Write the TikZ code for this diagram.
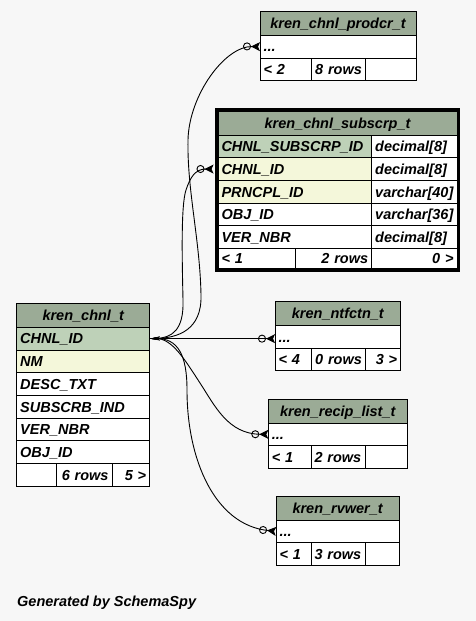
\documentclass[tikz,border=0pt]{standalone}
\usepackage{fontspec}
\setmainfont{Liberation Sans}
\usetikzlibrary{%
    arrows.meta,%
    positioning,%
    fit
    }
\definecolor{myhead}{RGB}{155,171,150}
\definecolor{mykey}{RGB}{190,209,184}
\definecolor{myidx}{RGB}{244,247,218}
\definecolor{mybg}{RGB}{247,247,247}
\newcommand{\tblfont}{\fontsize{14.5pt}{17pt}\selectfont\bfseries\itshape}
\tikzset{
  tblcell/.style={
    draw=black,
    line width=1pt,
    fill=white,
    anchor=north west,
    inner xsep=3.5pt,
    inner ysep=0pt,
    outer sep=0pt,
    minimum height=22.7pt,
    text height=12.5pt,
    text depth=2pt,
    align=left,
    font=\tblfont
  },
  tblhead/.style={
    tblcell,
    fill=myhead,
    minimum height=24pt,
    align=center
  },
  keycell/.style={
    tblcell,
    fill=mykey
  },
  idxcell/.style={
    tblcell,
    fill=myidx
  },
  footcell/.style={
    tblcell,
    minimum height=22.5pt
  },
  footright/.style={
    footcell,
    align=right
  },
  selframe/.style={
    draw=black,
    line width=3pt,
    inner sep=1.5pt
  },
  fklink/.style={
    line width=0.9pt,
    {Stealth[length=10pt,width=3.5pt]}-{Circle[open,length=8pt,width=8pt]Stealth[reversed,length=9pt,width=9pt,inset=2pt]}
  }
}

\begin{document}
\begin{tikzpicture}[x=1pt,y=-1pt]
\path[use as bounding box, fill=mybg] (0,0) rectangle (476,621);

% kren_chnl_prodcr_t
\node[tblhead, text width=149pt]
  (prodcr-head) at (260,11.3)
  {kren\_chnl\_prodcr\_t};
\node[tblcell, text width=149pt, below=0pt of prodcr-head]
  (prodcr-dots)
  {...};
\node[footcell, text width=44.7pt]
  (prodcr-f1) at (prodcr-dots.south west)
  {< 2};
\node[footcell, text width=47pt, right=0pt of prodcr-f1]
  (prodcr-f2)
  {8 rows};
\node[footcell, text width=43.3pt, right=0pt of prodcr-f2]
  (prodcr-f3)
  {};

% kren_chnl_subscrp_t
\node[tblhead, text width=232pt]
  (sub-head) at (218,111)
  {kren\_chnl\_subscrp\_t};
\node[keycell, text width=146.7pt]
  (sub-pk) at (sub-head.south west)
  {CHNL\_SUBSCRP\_ID};
\node[tblcell, text width=78.3pt, right=0pt of sub-pk]
  (sub-pk-t)
  {decimal[8]};
\node[idxcell, text width=146.7pt, below=0pt of sub-pk]
  (sub-chnl)
  {CHNL\_ID};
\node[tblcell, text width=78.3pt, right=0pt of sub-chnl]
  (sub-chnl-t)
  {decimal[8]};
\node[idxcell, text width=146.7pt, below=0pt of sub-chnl]
  (sub-prncpl)
  {PRNCPL\_ID};
\node[tblcell, text width=78.3pt, right=0pt of sub-prncpl]
  (sub-prncpl-t)
  {varchar[40]};
\node[tblcell, text width=146.7pt, below=0pt of sub-prncpl]
  (sub-obj)
  {OBJ\_ID};
\node[tblcell, text width=78.3pt, right=0pt of sub-obj]
  (sub-obj-t)
  {varchar[36]};
\node[tblcell, text width=146.7pt, below=0pt of sub-obj]
  (sub-ver)
  {VER\_NBR};
\node[tblcell, text width=78.3pt, right=0pt of sub-ver]
  (sub-ver-t)
  {decimal[8]};
\node[footcell, minimum height=20pt, text width=70.7pt]
  (sub-f1) at (sub-ver.south west)
  {< 1};
\node[footright, minimum height=20pt, text width=69pt, right=0pt of sub-f1]
  (sub-f2)
  {2 rows};
\node[footright, minimum height=20pt, text width=78.3pt, right=0pt of sub-f2]
  (sub-f3)
  {0 >};
\node[selframe, fit=(sub-head)(sub-f3)]
  (sub-frame)
  {};

% kren_chnl_t
\node[tblhead, text width=126pt]
  (kc-head) at (16.7,303.3)
  {kren\_chnl\_t};
\node[keycell, text width=126pt, below=0pt of kc-head]
  (kc-chnl)
  {CHNL\_ID};
\node[idxcell, text width=126pt, below=0pt of kc-chnl]
  (kc-nm)
  {NM};
\node[tblcell, text width=126pt, below=0pt of kc-nm]
  (kc-desc)
  {DESC\_TXT};
\node[tblcell, text width=126pt, below=0pt of kc-desc]
  (kc-subscrb)
  {SUBSCRB\_IND};
\node[tblcell, text width=126pt, below=0pt of kc-subscrb]
  (kc-ver)
  {VER\_NBR};
\node[tblcell, text width=126pt, below=0pt of kc-ver]
  (kc-obj)
  {OBJ\_ID};
\node[footcell, text width=33pt]
  (kc-f1) at (kc-obj.south west)
  {};
\node[footright, text width=48.3pt, right=0pt of kc-f1]
  (kc-f2)
  {6 rows};
\node[footright, text width=30.7pt, right=0pt of kc-f2]
  (kc-f3)
  {5 >};

% kren_ntfctn_t
\node[tblhead, text width=118.7pt]
  (ntf-head) at (275,301.7)
  {kren\_ntfctn\_t};
\node[tblcell, text width=118.7pt, below=0pt of ntf-head]
  (ntf-dots)
  {...};
\node[footcell, text width=29.7pt]
  (ntf-f1) at (ntf-dots.south west)
  {< 4};
\node[footcell, text width=47pt, right=0pt of ntf-f1]
  (ntf-f2)
  {0 rows};
\node[footright, text width=28pt, right=0pt of ntf-f2]
  (ntf-f3)
  {3 >};

% kren_recip_list_t
\node[tblhead, text width=132pt]
  (recip-head) at (268.3,399)
  {kren\_recip\_list\_t};
\node[tblcell, text width=132pt, below=0pt of recip-head]
  (recip-dots)
  {...};
\node[footcell, text width=35.7pt]
  (recip-f1) at (recip-dots.south west)
  {< 1};
\node[footcell, text width=47.7pt, right=0pt of recip-f1]
  (recip-f2)
  {2 rows};
\node[footcell, text width=34.6pt, right=0pt of recip-f2]
  (recip-f3)
  {};

% kren_rvwer_t
\node[tblhead, text width=116.3pt]
  (rvwer-head) at (276,496)
  {kren\_rvwer\_t};
\node[tblcell, text width=116.3pt, below=0pt of rvwer-head]
  (rvwer-dots)
  {...};
\node[footcell, text width=28pt]
  (rvwer-f1) at (rvwer-dots.south west)
  {< 1};
\node[footcell, text width=47.7pt, right=0pt of rvwer-f1]
  (rvwer-f2)
  {3 rows};
\node[footcell, text width=26.6pt, right=0pt of rvwer-f2]
  (rvwer-f3)
  {};

% links
\draw[fklink]
  (kc-chnl.east) .. controls (178,338) and (202,330) .. (201,295)
  .. controls (200,240) and (187,190) .. (188,140)
  .. controls (189,95) and (225,46) .. (prodcr-dots.west);
\draw[fklink]
  (kc-chnl.east) .. controls (172,338) and (184,330) .. (183,300)
  .. controls (182,255) and (181,205) .. (186,190)
  .. controls (190,178) and (195,169) .. ([xshift=-1.5pt]sub-frame.west |- sub-chnl.west);
\draw[fklink]
  (kc-chnl.east) -- (kc-chnl.east -| ntf-dots.west);
\draw[fklink]
  (kc-chnl.east) .. controls (172,338) and (185,360) .. (200,383)
  .. controls (215,406) and (228,434) .. (recip-dots.west);
\draw[fklink]
  (kc-chnl.east) .. controls (178,338) and (187,355) .. (187,390)
  .. controls (187,460) and (215,525) .. (rvwer-dots.west);

\node[font=\tblfont, anchor=base west, inner sep=0pt]
  (gen) at (17,606.7)
  {Generated by SchemaSpy};
\end{tikzpicture}
\end{document}
